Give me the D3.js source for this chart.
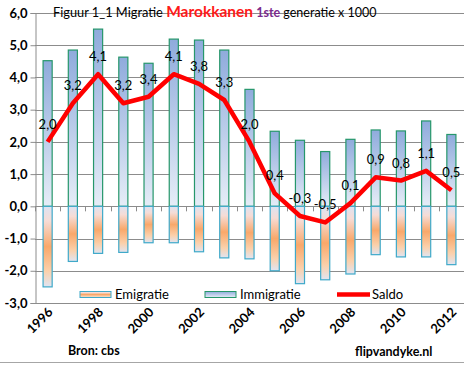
<!DOCTYPE html>
<html><head><meta charset="utf-8">
<script src="https://cdn.jsdelivr.net/npm/d3@7"></script>
<style>
html,body{margin:0;padding:0;background:#fff;}
svg{display:block;font-family:Lato,"Open Sans",sans-serif;}
</style></head>
<body>
<script>
const years = [1996,1997,1998,1999,2000,2001,2002,2003,2004,2005,2006,2007,2008,2009,2010,2011,2012];
const immigratie = [4.52,4.85,5.50,4.63,4.44,5.19,5.16,4.85,3.63,2.33,2.05,1.70,2.08,2.37,2.34,2.65,2.23];
const emigratie = [-2.50,-1.71,-1.46,-1.43,-1.13,-1.13,-1.41,-1.60,-1.63,-2.00,-2.40,-2.28,-2.10,-1.50,-1.57,-1.57,-1.81];
const saldo = [2.0,3.2,4.1,3.2,3.4,4.1,3.8,3.3,2.0,0.4,-0.3,-0.5,0.1,0.9,0.8,1.1,0.5];
const yTicks = [-3,-2,-1,0,1,2,3,4,5,6];
const xLabelYears = [1996,1998,2000,2002,2004,2006,2008,2010,2012];
const legendItems = ["Emigratie","Immigratie","Saldo"];

const W = 464, H = 365;
const svg = d3.select("body").append("svg").attr("width", W).attr("height", H);
const defs = svg.append("defs");

const gImm = defs.append("linearGradient").attr("id","gImm").attr("x1",0).attr("y1",0).attr("x2",0).attr("y2",1);
gImm.append("stop").attr("offset","0%").attr("stop-color","#8fabdc");
gImm.append("stop").attr("offset","100%").attr("stop-color","#e6edf7");

const gEmi = defs.append("linearGradient").attr("id","gEmi").attr("x1",0).attr("y1",0).attr("x2",0).attr("y2",1);
[["0%","#dde3f2"],["18%","#f6dcd6"],["50%","#f9a86a"],["80%","#fbd0aa"],["100%","#e0e5f2"]]
  .forEach(s => gEmi.append("stop").attr("offset",s[0]).attr("stop-color",s[1]));

const x = d3.scaleBand().domain(years).range([35, 464]).paddingInner(0.6).paddingOuter(0.3);
const y = d3.scaleLinear().domain([-3, 6]).range([303, 13]);
const step = x.step();

// gridlines
svg.append("g").selectAll("line").data(yTicks).join("line")
  .attr("x1", 35).attr("x2", 464)
  .attr("y1", d => Math.round(y(d)) + 0.5).attr("y2", d => Math.round(y(d)) + 0.5)
  .attr("stroke", "#8c8c8c").attr("stroke-width", 1);

// y axis
const yAxis = d3.axisLeft(y).tickValues(yTicks).tickSize(5).tickFormat(d => d3.format(".1f")(d).replace(".", ",").replace("−", "-"));
const ya = svg.append("g").attr("transform", "translate(35.5,0)").call(yAxis);
ya.select(".domain").attr("stroke", "#8c8c8c");
ya.selectAll(".tick line").attr("stroke", "#8c8c8c");
ya.selectAll(".tick text").attr("font-size", 13).attr("font-weight", "bold").attr("fill", "#000").attr("x", -8)
  .attr("font-family", "Lato, sans-serif");

// x tick marks on zero line
const bounds = years.map(d => x(d) - (step - x.bandwidth()) / 2).concat([464]);
svg.append("g").selectAll("line").data(bounds).join("line")
  .attr("x1", d => Math.round(d) + 0.5).attr("x2", d => Math.round(d) + 0.5)
  .attr("y1", y(0)).attr("y2", y(0) + 5).attr("stroke", "#8c8c8c");

// bars
svg.append("g").selectAll("rect").data(years).join("rect")
  .attr("x", d => x(d) + 0.5).attr("width", x.bandwidth() - 1)
  .attr("y", (d, i) => y(immigratie[i])).attr("height", (d, i) => y(0) - y(immigratie[i]))
  .attr("fill", "url(#gImm)").attr("stroke", "#26976b").attr("stroke-width", 1.2);
svg.append("g").selectAll("rect").data(years).join("rect")
  .attr("x", d => x(d) + 0.5).attr("width", x.bandwidth() - 1)
  .attr("y", y(0)).attr("height", (d, i) => y(emigratie[i]) - y(0))
  .attr("fill", "url(#gEmi)").attr("stroke", "#3fa9c9").attr("stroke-width", 1.2);

// line
const line = d3.line().x((d, i) => x(years[i]) + x.bandwidth() / 2).y(d => y(d));
svg.append("path").datum(saldo).attr("d", line).attr("fill", "none")
  .attr("stroke", "#ff0000").attr("stroke-width", 4.5).attr("stroke-linejoin", "round");

// data labels
svg.append("g").selectAll("text").data(saldo).join("text")
  .attr("x", (d, i) => x(years[i]) + x.bandwidth() / 2)
  .attr("y", d => y(d) - 13)
  .attr("text-anchor", "middle").attr("font-size", 13).attr("fill", "#000")
  .text(d => d3.format(".1f")(d).replace(".", ",").replace("−", "-"));

// x labels
svg.append("g").selectAll("text").data(xLabelYears).join("text")
  .attr("transform", d => `translate(${x(d) + x.bandwidth() / 2 + 6},${313}) rotate(-45)`)
  .attr("text-anchor", "end").attr("font-size", 13).attr("font-weight", "bold").attr("fill", "#000")
  .text(d => d);

// legend
const lg = svg.append("g");
const legX = [80, 205, 337];
lg.append("rect").attr("x", legX[0]).attr("y", 291.5).attr("width", 31).attr("height", 6)
  .attr("fill", "url(#gEmi)").attr("stroke", "#3fa9c9");
lg.append("rect").attr("x", legX[1]).attr("y", 291.5).attr("width", 31).attr("height", 6)
  .attr("fill", "url(#gImm)").attr("stroke", "#26976b");
lg.append("line").attr("x1", legX[2]).attr("x2", legX[2] + 33).attr("y1", 294.5).attr("y2", 294.5)
  .attr("stroke", "#ff0000").attr("stroke-width", 4.5);
lg.selectAll("text").data(legendItems).join("text")
  .attr("x", (d, i) => legX[i] + 35).attr("y", 299)
  .attr("font-size", 13).attr("fill", "#000").text(d => d);

// title
const t = svg.append("text").attr("x", 53).attr("y", 17).attr("fill", "#000");
t.append("tspan").attr("font-size", 12.8).text("Figuur 1_1 Migratie ");
t.append("tspan").attr("font-size", 15.5).attr("font-weight", "bold").attr("fill", "#ff1a1a").text("Marokkanen");
t.append("tspan").attr("font-size", 12.5).attr("font-weight", "bold").attr("fill", "#7a2a8c").text(" 1ste");
t.append("tspan").attr("font-size", 12.5).text(" generatie x 1000");

// footer
svg.append("text").attr("x", 68).attr("y", 355).attr("font-size", 12.5).attr("font-weight", "bold").text("Bron: cbs");
svg.append("text").attr("x", 355).attr("y", 356).attr("font-size", 12.5).attr("font-weight", "bold").text("flipvandyke.nl");
svg.append("line").attr("x1", 0).attr("x2", W).attr("y1", 362.5).attr("y2", 362.5).attr("stroke", "#a6a6a6");
</script>
</body></html>
